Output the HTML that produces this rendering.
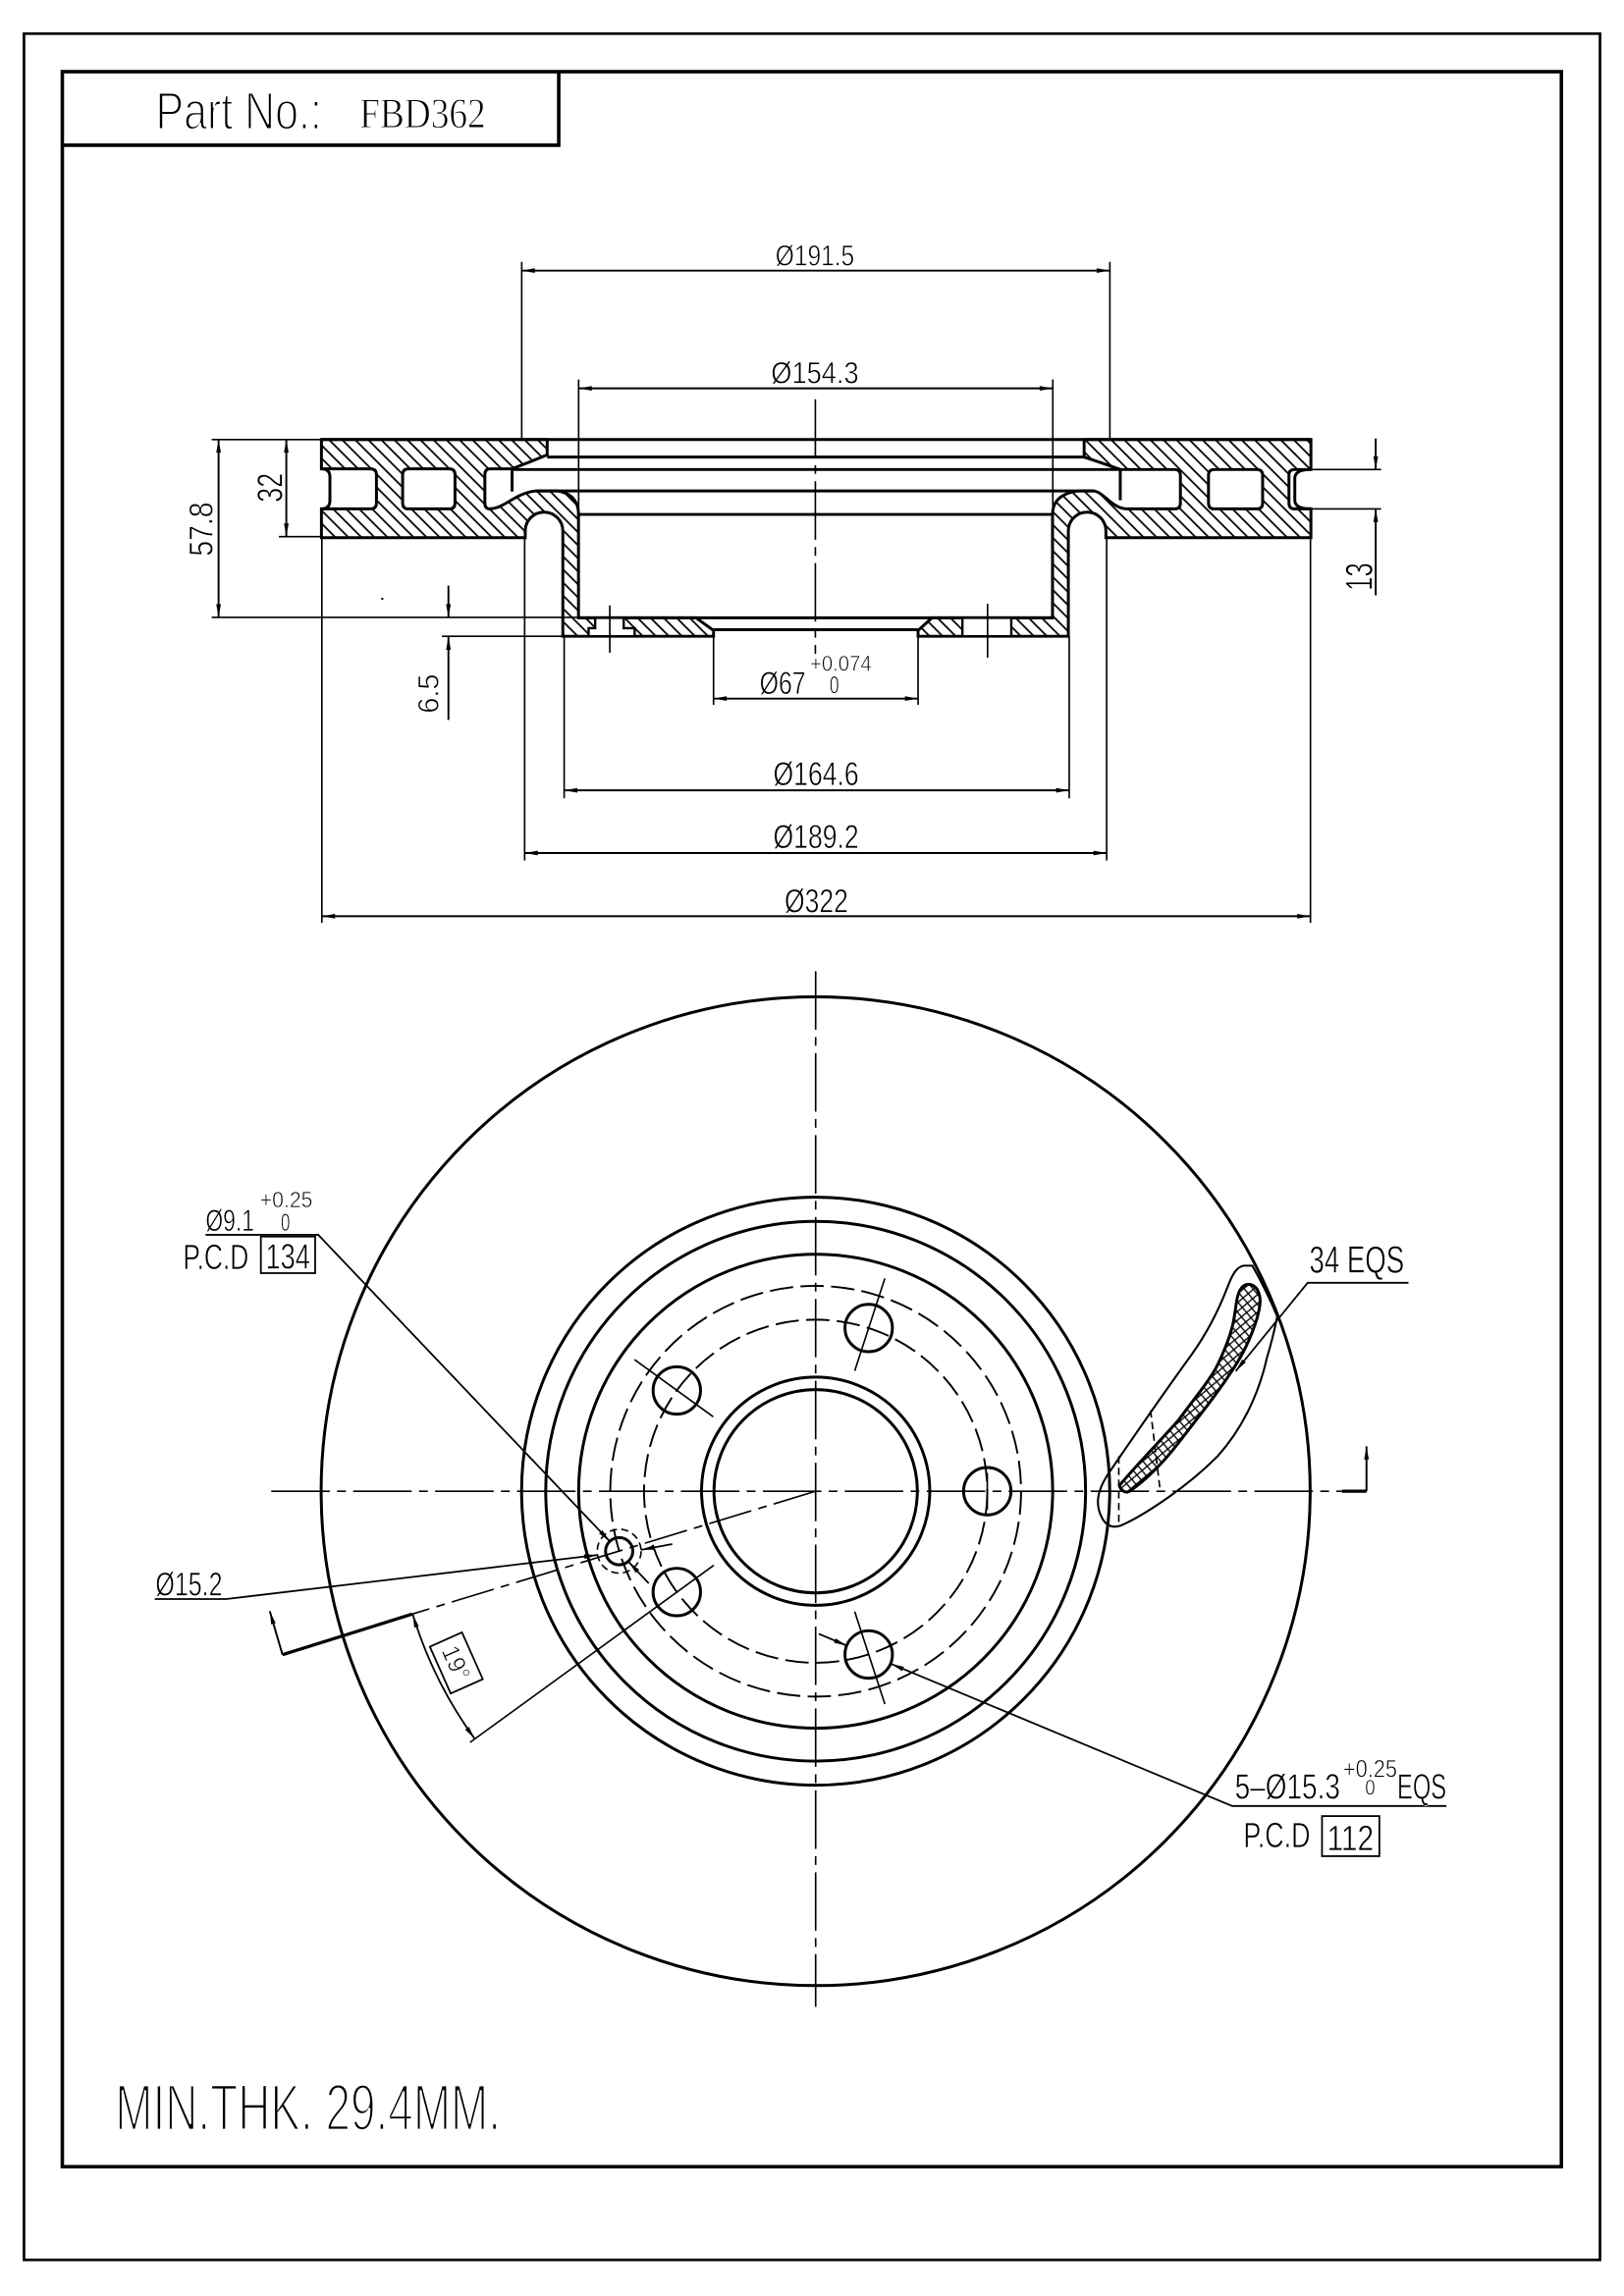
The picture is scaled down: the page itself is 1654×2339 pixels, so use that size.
<!DOCTYPE html>
<html><head><meta charset="utf-8"><style>
html,body{margin:0;padding:0;background:#fff}
svg{display:block}
text{font-family:"Liberation Sans",sans-serif;fill:#000;stroke:#fff;stroke-width:0.45px;paint-order:normal}
</style></head><body>
<svg xmlns="http://www.w3.org/2000/svg" width="1654" height="2339" viewBox="0 0 1110 1569.7" preserveAspectRatio="none">
<defs>
<pattern id="h" patternUnits="userSpaceOnUse" width="6.3" height="6.3" patternTransform="rotate(-45)">
<line x1="3.15" y1="-1" x2="3.15" y2="8" stroke="#000" stroke-width="1.2"/>
</pattern>
<pattern id="g" patternUnits="userSpaceOnUse" width="4.6" height="4.6" patternTransform="rotate(-40)">
<line x1="2.3" y1="-1" x2="2.3" y2="6" stroke="#000" stroke-width="0.9"/>
<line x1="-1" y1="2.3" x2="6" y2="2.3" stroke="#000" stroke-width="0.9"/>
</pattern>
<marker id="a" viewBox="-10 -3 10 6" refX="0" refY="0" markerWidth="10" markerHeight="6" markerUnits="userSpaceOnUse" orient="auto-start-reverse">
<path d="M0,0 L-9,-1.6 L-9,1.6 Z" fill="#000"/>
</marker>
</defs>
<rect x="0" y="0" width="1110" height="1569.7" fill="#fff"/>

<!-- frames -->
<rect x="16.4" y="23" width="1077.2" height="1522" fill="none" stroke="#000" stroke-width="1.8"/>
<rect x="42.6" y="49" width="1024.6" height="1432.3" fill="none" stroke="#000" stroke-width="2.4"/>
<polyline points="42.6,99.3 381.9,99.3 381.9,49" fill="none" stroke="#000" stroke-width="2.4"/>
<text x="106.4" y="88.4" font-size="36" textLength="113.6" lengthAdjust="spacingAndGlyphs" style="stroke-width:1.3px">Part No.:</text>
<text x="245.7" y="87.3" font-size="29" textLength="86.3" lengthAdjust="spacingAndGlyphs" style="font-family:'Liberation Serif',serif;stroke-width:0.6px">FBD362</text>

<!-- ============ CROSS SECTION ============ -->
<g fill="none" stroke="#000">
<g stroke-width="2">
<line x1="219.7" y1="300.5" x2="896" y2="300.5"/>
<line x1="374" y1="312.5" x2="741" y2="312.5"/>
<line x1="350" y1="321" x2="765.7" y2="321"/>
<line x1="366.4" y1="335.6" x2="747.7" y2="335.6"/>
<line x1="395.4" y1="351.7" x2="719.4" y2="351.7"/>
<line x1="395.4" y1="422.4" x2="719.4" y2="422.4"/>
<line x1="487.7" y1="430.5" x2="627.5" y2="430.5"/>
<line x1="350" y1="321" x2="350" y2="336"/>
<line x1="765.7" y1="321" x2="765.7" y2="342"/>
</g>
<path fill="url(#h)" stroke-width="2" fill-rule="evenodd" d="M219.7,300.5 H374 V311 Q362,316 350,320.5 H335 Q331.4,320.5 331.4,324.5 V343.9 Q331.4,347.9 335,347.9 C345,347.5 352,337 366.4,335.6 H381 Q395.4,338 395.4,351.7 V422.4 H475.8 L487.7,431 V435 H384.7 V363 A12.85,12.85 0 0 0 359,363 V367.6 H219.7 V347.9 H253 Q257.3,347.9 257.3,343.9 V324.5 Q257.3,320.5 253,320.5 H219.7 Z M279.2,320.5 H307 Q311,320.5 311,324.5 V343.9 Q311,347.9 307,347.9 H279.2 Q275.2,347.9 275.2,343.9 V324.5 Q275.2,320.5 279.2,320.5 Z"/>
<path stroke-width="2" d="M219.7,320.5 Q225.5,320.5 225.5,326 V342 Q225.5,347.9 219.7,347.9"/>
<path fill="url(#h)" stroke-width="2" fill-rule="evenodd" d="M896,300.5 H741 V312.5 Q752,316 765.7,321 H802.8 Q806.8,321 806.8,325 V343.9 Q806.8,347.9 802.8,347.9 H770 C760,347.5 755,337 747.7,335.6 H737 Q719.4,338 719.4,351.7 V422.4 H637 L627.5,431 V435 H730.2 V363 A12.85,12.85 0 0 1 755.9,363 V367.6 H896 V347.9 H885 Q881,347.9 881,343.9 V324.5 Q881,321 885,321 H896 Z M830,321 H859 Q863,321 863,325 V343.9 Q863,347.9 859,347.9 H830 Q826,347.9 826,343.9 V325 Q826,321 830,321 Z"/>
<path stroke-width="2" d="M896,321 Q885,321 885,327 V342 Q885,347.9 896,347.9"/>
<path fill="#fff" stroke-width="1.6" d="M406.8,422.4 H426.3 V429.5 H433.8 V435 H402.3 V429.5 H406.8 Z"/>
<rect x="657.8" y="422.4" width="33.4" height="12.6" fill="#fff" stroke-width="1.6"/>
<line x1="416.8" y1="413.9" x2="416.8" y2="446.3" stroke-width="1.1"/>
<line x1="675" y1="412.8" x2="675" y2="449.7" stroke-width="1.1"/>
<line x1="557.3" y1="273" x2="557.3" y2="447" stroke-width="1.1" stroke-dasharray="40 5 6 5"/>

<g stroke-width="1.1">
<line x1="356.6" y1="179" x2="356.6" y2="300.5"/>
<line x1="758.6" y1="179" x2="758.6" y2="300.5"/>
<line x1="395.5" y1="259.5" x2="395.5" y2="351.7"/>
<line x1="719.6" y1="259.5" x2="719.6" y2="351.7"/>
<line x1="385.6" y1="435" x2="385.6" y2="545.8"/>
<line x1="730.8" y1="435" x2="730.8" y2="545.8"/>
<line x1="358.6" y1="367.6" x2="358.6" y2="588.3"/>
<line x1="756.4" y1="367.6" x2="756.4" y2="588.3"/>
<line x1="220" y1="367.6" x2="220" y2="630.9"/>
<line x1="895.7" y1="367.6" x2="895.7" y2="630.9"/>
<line x1="144.7" y1="300.5" x2="219.7" y2="300.5"/>
<line x1="144.7" y1="422.1" x2="395.4" y2="422.1"/>
<line x1="190.6" y1="366.9" x2="219.7" y2="366.9"/>
<line x1="302" y1="435" x2="384.7" y2="435"/>
<line x1="896" y1="321" x2="944" y2="321"/>
<line x1="896" y1="347.9" x2="944" y2="347.9"/>
<line x1="487.7" y1="435" x2="487.7" y2="481.9"/>
<line x1="627.5" y1="435" x2="627.5" y2="481.9"/>
</g>
<g stroke-width="1.3">
<line x1="356.6" y1="185" x2="758.6" y2="185" marker-start="url(#a)" marker-end="url(#a)"/>
<line x1="395.5" y1="265.5" x2="719.6" y2="265.5" marker-start="url(#a)" marker-end="url(#a)"/>
<line x1="385.6" y1="540.3" x2="730.8" y2="540.3" marker-start="url(#a)" marker-end="url(#a)"/>
<line x1="358.6" y1="583.2" x2="756.4" y2="583.2" marker-start="url(#a)" marker-end="url(#a)"/>
<line x1="220" y1="626.4" x2="895.7" y2="626.4" marker-start="url(#a)" marker-end="url(#a)"/>
<line x1="487.7" y1="477.6" x2="627.5" y2="477.6" marker-start="url(#a)" marker-end="url(#a)"/>
<line x1="149.4" y1="300.5" x2="149.4" y2="422.1" marker-start="url(#a)" marker-end="url(#a)"/>
<line x1="195.7" y1="300.5" x2="195.7" y2="366.9" marker-start="url(#a)" marker-end="url(#a)"/>
<line x1="306.5" y1="400.4" x2="306.5" y2="422.1" marker-end="url(#a)"/>
<line x1="306.5" y1="492.2" x2="306.5" y2="435.3" marker-end="url(#a)"/>
<line x1="940.3" y1="299.8" x2="940.3" y2="321" marker-end="url(#a)"/>
<line x1="940.3" y1="407" x2="940.3" y2="347.9" marker-end="url(#a)"/>
</g>
</g>
<circle cx="261.3" cy="409.4" r="0.8" fill="#000"/>

<text x="530" y="181.7" font-size="20" textLength="54" lengthAdjust="spacingAndGlyphs">Ø191.5</text>
<text x="527" y="262.2" font-size="21" textLength="60" lengthAdjust="spacingAndGlyphs">Ø154.3</text>
<text x="519.2" y="474.3" font-size="22" textLength="31.5" lengthAdjust="spacingAndGlyphs">Ø67</text>
<text x="553.7" y="458.6" font-size="15" textLength="42" lengthAdjust="spacingAndGlyphs">+0.074</text>
<text x="567" y="474" font-size="16.5" textLength="6.5" lengthAdjust="spacingAndGlyphs">0</text>
<text x="528.5" y="537" font-size="23" textLength="58.5" lengthAdjust="spacingAndGlyphs">Ø164.6</text>
<text x="528.5" y="579.9" font-size="23" textLength="58.5" lengthAdjust="spacingAndGlyphs">Ø189.2</text>
<text x="536.2" y="623.7" font-size="23" textLength="43.6" lengthAdjust="spacingAndGlyphs">Ø322</text>
<text transform="translate(145.4,380.3) rotate(-90)" x="0" y="0" font-size="23" textLength="37" lengthAdjust="spacingAndGlyphs">57.8</text>
<text transform="translate(192.8,343.4) rotate(-90)" x="0" y="0" font-size="24" textLength="20" lengthAdjust="spacingAndGlyphs">32</text>
<text transform="translate(299.8,487.7) rotate(-90)" x="0" y="0" font-size="20" textLength="27" lengthAdjust="spacingAndGlyphs">6.5</text>
<text transform="translate(937.8,403.8) rotate(-90)" x="0" y="0" font-size="26" textLength="19" lengthAdjust="spacingAndGlyphs">13</text>

<!-- ============ FRONT VIEW ============ -->
<g fill="none" stroke="#000">
<circle cx="557.5" cy="1019.5" r="338" stroke-width="2"/>
<circle cx="557.5" cy="1019.5" r="201" stroke-width="2"/>
<circle cx="557.5" cy="1019.5" r="184.5" stroke-width="2"/>
<circle cx="557.5" cy="1019.5" r="162" stroke-width="2"/>
<circle cx="557.5" cy="1019.5" r="140.4" stroke-width="1.3" stroke-dasharray="16 5"/>
<circle cx="557.5" cy="1019.5" r="117.3" stroke-width="1.3" stroke-dasharray="16 5"/>
<circle cx="557.5" cy="1019.5" r="78" stroke-width="2"/>
<circle cx="557.5" cy="1019.5" r="69.5" stroke-width="2"/>
<g stroke-width="2">
<circle cx="674.8" cy="1019.5" r="16.2"/>
<circle cx="593.75" cy="907.9" r="16.2"/>
<circle cx="462.6" cy="950.6" r="16.2"/>
<circle cx="462.6" cy="1088.4" r="16.2"/>
<circle cx="593.75" cy="1131.1" r="16.2"/>
<circle cx="423.2" cy="1060.5" r="9.3"/>
</g>
<circle cx="423.2" cy="1060.5" r="15" stroke-width="1.1" stroke-dasharray="5 3"/>
<g stroke-width="1.1">
<line x1="185.4" y1="1019.5" x2="917.2" y2="1019.5" stroke-dasharray="40 5 6 5"/>
<line x1="557.5" y1="664" x2="557.5" y2="1372" stroke-dasharray="40 5 6 5"/>
<line x1="557.5" y1="1019.5" x2="281.7" y2="1103.5" stroke-dasharray="30 5 6 5"/>
<line x1="584.2" y1="937.2" x2="604.8" y2="874"/>
<line x1="487.5" y1="968.6" x2="433.7" y2="929.5"/>
<line x1="584.2" y1="1101.8" x2="604.8" y2="1165"/>
<line x1="674.8" y1="1007" x2="674.8" y2="1032"/>
<line x1="487.9" y1="1070.1" x2="321.3" y2="1191.2"/>
</g>
<polyline points="281.7,1103.5 193.1,1131.3" stroke-width="2.2"/>
<line x1="193.1" y1="1131.3" x2="184.4" y2="1101.5" stroke-width="1.3" marker-end="url(#a)"/>
<polyline points="917.2,1019.5 934,1019.5" stroke-width="2.2"/>
<line x1="934" y1="1019.5" x2="934" y2="988.8" stroke-width="1.3" marker-end="url(#a)"/>
<path d="M282.1,1103.7 A288,288 0 0 0 324.5,1188.8" stroke-width="1.2" marker-start="url(#a)" marker-end="url(#a)"/>
<path stroke-width="1.4" d="M850.2,865.3 C845,866 842,872 839,880 C834,893 826,910 814.4,926.2 C800,946 775,982 759.6,1004.5 C752,1015 748,1025 752,1035 C755,1043 760,1045 766,1043 C780,1037 810,1018 832.3,995.5 C848,978 860,955 866,928 C870,915 872,905 873,900 A338,338 0 0 0 856,865.3 Z"/>
<path fill="url(#g)" stroke-width="2" d="M765.1,1015.6 C780,998 795,983 805.4,971 C818,954 828,942 832.3,932.9 C838,921 842,910 843.4,901.6 C845,893 845,886 847.9,881.4 C850,878 854,877 856.9,879.2 C860,881 861.5,886 861.3,890.4 C861,895 860,898 859.1,901.6 C855,915 850,925 843.4,935.1 C832,953 818,970 805.4,986.6 C795,1000 783,1012 771.9,1019.7 C769,1021 766,1019 765.1,1015.6 Z"/>
<line x1="786.4" y1="964.2" x2="793.1" y2="1020.1" stroke-width="1.1" stroke-dasharray="5 3"/>
<line x1="764.7" y1="995.5" x2="764.7" y2="1043.6" stroke-width="1.1" stroke-dasharray="5 3"/>

<g stroke-width="1.2">
<polyline points="140.5,844.2 217.5,844.2 416.8,1053.8" marker-end="url(#a)"/>
<line x1="443.4" y1="1082.5" x2="429.6" y2="1067.7" marker-end="url(#a)"/>
<polyline points="105.8,1093.2 154.6,1093.2 408.3,1063.1" marker-end="url(#a)"/>
<line x1="459.5" y1="1055.6" x2="438.1" y2="1059.6" marker-end="url(#a)"/>
<polyline points="988.6,1234.7 842.2,1234.7 608.9,1137.5" marker-end="url(#a)"/>
<line x1="559.6" y1="1117" x2="578.9" y2="1125.1" marker-end="url(#a)"/>
<polyline points="962.7,877 893.8,877 844.6,937.4" marker-end="url(#a)"/>
</g>
<rect x="178.3" y="845.4" width="37.1" height="25" stroke-width="1.2"/>
<rect x="903.6" y="1241.6" width="39.2" height="27.4" stroke-width="1.2"/>
</g>

<text x="140.5" y="841.5" font-size="21" textLength="33.3" lengthAdjust="spacingAndGlyphs">Ø9.1</text>
<text x="177.7" y="825.3" font-size="15.5" textLength="36" lengthAdjust="spacingAndGlyphs">+0.25</text>
<text x="191.9" y="841.5" font-size="16.5" textLength="6.3" lengthAdjust="spacingAndGlyphs">0</text>
<text x="125.1" y="867.6" font-size="24" textLength="44.9" lengthAdjust="spacingAndGlyphs">P.C.D</text>
<text x="181.5" y="867.5" font-size="24" textLength="30.5" lengthAdjust="spacingAndGlyphs">134</text>
<text x="106.3" y="1091" font-size="23" textLength="45.7" lengthAdjust="spacingAndGlyphs">Ø15.2</text>
<text x="894.9" y="870.2" font-size="26" textLength="64.9" lengthAdjust="spacingAndGlyphs">34 EQS</text>
<text x="844" y="1229.7" font-size="24.5" textLength="72" lengthAdjust="spacingAndGlyphs">5–Ø15.3</text>
<text x="918" y="1215" font-size="17" textLength="37" lengthAdjust="spacingAndGlyphs">+0.25</text>
<text x="933" y="1227" font-size="15" textLength="7" lengthAdjust="spacingAndGlyphs">0</text>
<text x="955" y="1229.7" font-size="24.5" textLength="33.6" lengthAdjust="spacingAndGlyphs">EQS</text>
<text x="849.9" y="1263" font-size="24" textLength="45.7" lengthAdjust="spacingAndGlyphs">P.C.D</text>
<text x="907" y="1265" font-size="24" textLength="32" lengthAdjust="spacingAndGlyphs">112</text>
<g transform="translate(311.9,1136.9) rotate(66)">
<rect x="-17.5" y="-12" width="35" height="24" fill="none" stroke="#000" stroke-width="1.2"/>
<text x="-12" y="6" font-size="17" textLength="24" lengthAdjust="spacingAndGlyphs">19°</text>
</g>

<text x="78.7" y="1456.4" font-size="45" textLength="263.6" lengthAdjust="spacingAndGlyphs" style="stroke-width:1.8px">MIN.THK.  29.4MM.</text>
</svg>
</body></html>
